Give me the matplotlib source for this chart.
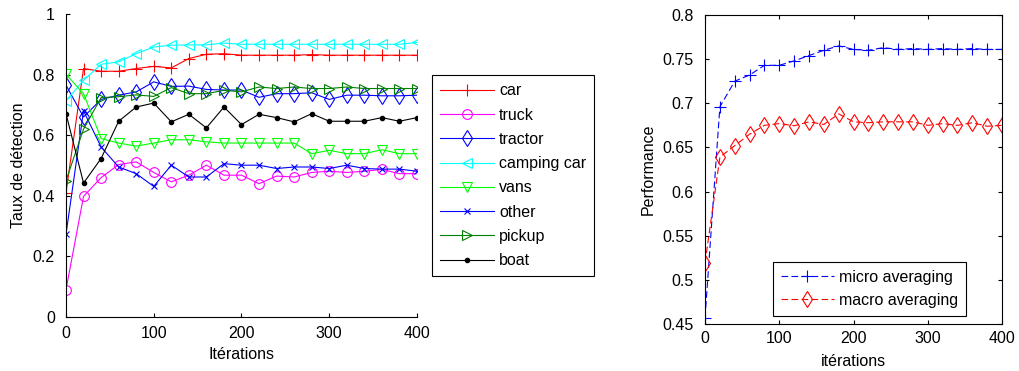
import matplotlib
matplotlib.use("Agg")
import matplotlib.pyplot as plt
from matplotlib.ticker import FuncFormatter

plt.rcParams.update({
    "font.size": 11.5,
    "font.family": ["Liberation Sans", "DejaVu Sans"],
})

# iterations (one point every 20)
iters = [0, 20, 40, 60, 80, 100, 120, 140, 160, 180, 200,
         220, 240, 260, 280, 300, 320, 340, 360, 380, 400]

# detection rate per class (left panel)
car = [0.41, 0.82, 0.811, 0.811, 0.82, 0.827, 0.822, 0.853, 0.867, 0.869, 0.864,
       0.864, 0.864, 0.864, 0.866, 0.864, 0.864, 0.864, 0.864, 0.864, 0.864]
truck = [0.09, 0.398, 0.46, 0.503, 0.512, 0.477, 0.446, 0.468, 0.501, 0.468, 0.468,
         0.44, 0.465, 0.462, 0.477, 0.481, 0.477, 0.481, 0.487, 0.473, 0.473]
tractor = [0.765, 0.66, 0.718, 0.732, 0.743, 0.776, 0.761, 0.762, 0.751, 0.749, 0.749,
           0.725, 0.737, 0.737, 0.74, 0.718, 0.732, 0.732, 0.73, 0.73, 0.732]
camping_car = [0.713, 0.781, 0.834, 0.842, 0.869, 0.891, 0.897, 0.898, 0.898, 0.904, 0.9,
               0.9, 0.9, 0.9, 0.9, 0.9, 0.9, 0.9, 0.9, 0.9, 0.906]
vans = [0.801, 0.737, 0.589, 0.574, 0.564, 0.574, 0.585, 0.585, 0.578, 0.574, 0.574,
        0.574, 0.574, 0.574, 0.539, 0.55, 0.539, 0.539, 0.552, 0.539, 0.539]
other = [0.273, 0.68, 0.561, 0.495, 0.473, 0.431, 0.501, 0.462, 0.462, 0.506, 0.501,
         0.501, 0.49, 0.495, 0.495, 0.49, 0.501, 0.49, 0.488, 0.488, 0.481]
pickup = [0.45, 0.62, 0.724, 0.727, 0.733, 0.728, 0.757, 0.737, 0.737, 0.748, 0.743,
          0.759, 0.754, 0.759, 0.754, 0.754, 0.759, 0.754, 0.754, 0.754, 0.754]
boat = [0.671, 0.442, 0.523, 0.646, 0.693, 0.706, 0.644, 0.669, 0.624, 0.693, 0.635,
        0.669, 0.658, 0.644, 0.671, 0.646, 0.646, 0.646, 0.658, 0.646, 0.658]

# averaged performance (right panel)
micro = [0.457, 0.696, 0.725, 0.732, 0.743, 0.743, 0.748, 0.754, 0.760, 0.765, 0.761,
         0.760, 0.763, 0.761, 0.762, 0.761, 0.762, 0.761, 0.762, 0.761, 0.761]
macro = [0.519, 0.639, 0.652, 0.665, 0.675, 0.677, 0.6745, 0.679, 0.676, 0.688, 0.679,
         0.678, 0.679, 0.679, 0.679, 0.675, 0.677, 0.675, 0.678, 0.674, 0.675]

fmt = FuncFormatter(lambda v, p: "%g" % round(v, 4))

fig = plt.figure(figsize=(10.2, 3.71), dpi=100)

# ---- left panel ----
ax1 = fig.add_axes([0.0647, 0.1456, 0.3441, 0.8167])
ms = 7
ax1.plot(iters, car, color="#ff0000", marker="+", ms=ms + 2, lw=0.8, mew=0.8, label="car")
ax1.plot(iters, truck, color="#ff00ff", marker="o", ms=ms, lw=0.8, mfc="none", mew=0.8, label="truck")
ax1.plot(iters, tractor, color="#0000ff", marker="d", ms=ms + 1, lw=0.8, mfc="none", mew=0.8, label="tractor")
ax1.plot(iters, camping_car, color="#00ffff", marker="<", ms=ms, lw=0.8, mfc="none", mew=0.8, label="camping car")
ax1.plot(iters, vans, color="#00ff00", marker="v", ms=ms, lw=0.8, mfc="none", mew=0.8, label="vans")
ax1.plot(iters, other, color="#0000ff", marker="x", ms=4.5, lw=0.8, mew=0.8, label="other")
ax1.plot(iters, pickup, color="#008000", marker=">", ms=ms, lw=0.8, mfc="none", mew=0.8, label="pickup")
ax1.plot(iters, boat, color="#000000", marker=".", ms=6, lw=0.8, label="boat")

ax1.set_xlim(0, 400)
ax1.set_ylim(0, 1)
ax1.set_xticks([0, 100, 200, 300, 400])
ax1.set_yticks([0, 0.2, 0.4, 0.6, 0.8, 1])
ax1.yaxis.set_major_formatter(fmt)
ax1.spines["top"].set_visible(False)
ax1.spines["right"].set_visible(False)
ax1.tick_params(direction="in", length=3, width=0.8)
ax1.tick_params(axis="y", pad=8)
ax1.tick_params(axis="x", pad=6.5)
ax1.set_xlabel("Itérations", labelpad=4)
ax1.set_ylabel("Taux de détection", labelpad=5)

leg1 = fig.legend(*ax1.get_legend_handles_labels(), loc="upper left",
                  bbox_to_anchor=(0.4235, 0.797), bbox_transform=fig.transFigure,
                  borderaxespad=0, fancybox=False, edgecolor="black", framealpha=1,
                  handlelength=3.4, handletextpad=0.3, labelspacing=0.58,
                  borderpad=0.5)
leg1.get_frame().set_linewidth(0.8)

# ---- right panel ----
ax2 = fig.add_axes([0.6912, 0.1267, 0.2912, 0.8329])
ax2.plot(iters, micro, color="#0000ff", ls=(0, (6, 3)), marker="+", ms=9, mew=0.8, lw=0.8,
         label="micro averaging")
ax2.plot(iters, macro, color="#ff0000", ls=(0, (6, 3)), marker="d", ms=8, mew=0.8, lw=0.8,
         mfc="none", label="macro averaging")
ax2.set_xlim(0, 400)
ax2.set_ylim(0.45, 0.8)
ax2.set_xticks([0, 100, 200, 300, 400])
ax2.set_yticks([0.45, 0.5, 0.55, 0.6, 0.65, 0.7, 0.75, 0.8])
ax2.yaxis.set_major_formatter(fmt)
ax2.tick_params(direction="in", length=3, width=0.8, top=True, right=True)
ax2.tick_params(axis="y", pad=8)
ax2.tick_params(axis="x", pad=5)
ax2.set_xlabel("itérations", labelpad=6)
ax2.set_ylabel("Performance", labelpad=5)
leg2 = ax2.legend(loc="lower center", bbox_to_anchor=(0.554, 0.027), borderaxespad=0,
                  fancybox=False, edgecolor="black", framealpha=1, handlelength=3.3,
                  handletextpad=0.35, labelspacing=0.5, borderpad=0.5)
leg2.get_frame().set_linewidth(0.8)

fig.savefig("out.png", dpi=100)
